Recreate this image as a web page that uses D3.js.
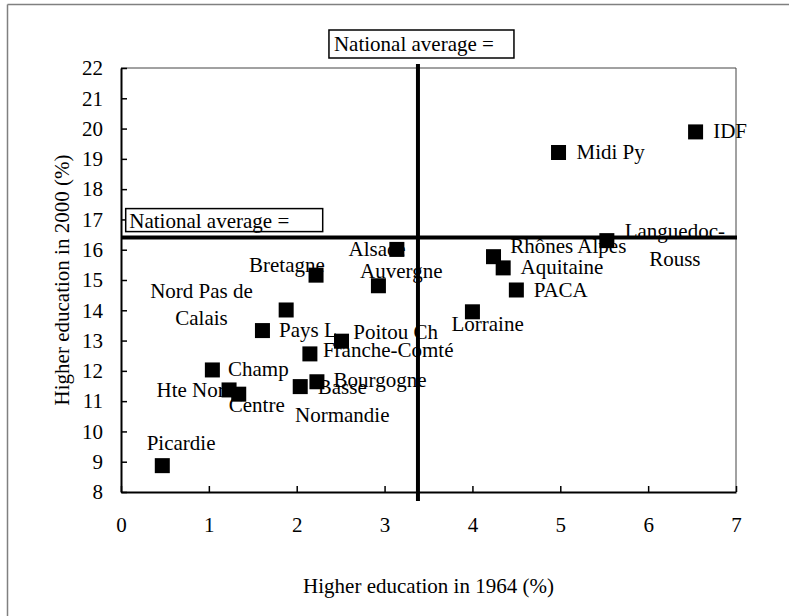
<!DOCTYPE html>
<html>
<head>
<meta charset="utf-8">
<script src="https://cdn.jsdelivr.net/npm/d3@7"></script>
<style>
  body { margin: 0; background: #fff; }
  svg text { font-family: "Liberation Serif", "Times New Roman", "DejaVu Serif", serif; }
</style>
</head>
<body>
<div id="main-vis"></div>
<script>
// regions of France, share of higher education (%)
var regions = ["IDF", "Midi Py", "Languedoc-\nRouss", "Rhônes Alpes", "Alsace", "Aquitaine",
  "Bretagne", "Auvergne", "PACA", "Nord Pas de\nCalais", "Lorraine", "Pays L", "Poitou Ch",
  "Franche-Comté", "Champ", "Bourgogne", "Basse\nNormandie", "Hte Nor", "Centre", "Picardie"];
var edu1964 = [6.54, 4.98, 5.53, 4.24, 3.14, 4.35, 2.22, 2.93, 4.50, 1.88, 4.00, 1.61, 2.51,
  2.15, 1.04, 2.23, 2.04, 1.23, 1.34, 0.47];
var edu2000 = [19.89, 19.21, 16.30, 15.77, 16.01, 15.40, 15.16, 14.81, 14.67, 14.01, 13.95, 13.33, 12.98,
  12.56, 12.03, 11.64, 11.48, 11.37, 11.23, 8.87];
var nationalAvg1964 = 3.38;
var nationalAvg2000 = 16.4;
var xTicks = [0, 1, 2, 3, 4, 5, 6, 7];
var yTicks = [8, 9, 10, 11, 12, 13, 14, 15, 16, 17, 18, 19, 20, 21, 22];
var avgLabel = "National average =";

// label placement (pixels from marker centre), like the hand moved labels of the original
var labelPos = {
  "IDF": [17.6, 6.3, "start"],
  "Midi Py": [18, 7, "start"],
  "Languedoc-\nRouss": [68, -2.4, "middle"],
  "Rhônes Alpes": [16.7, -4, "start"],
  "Alsace": [-48.4, 6.7, "start"],
  "Aquitaine": [17.4, 6, "start"],
  "Bretagne": [-67, -3.5, "start"],
  "Auvergne": [-18.3, -8.2, "start"],
  "PACA": [17.3, 6.7, "start"],
  "Nord Pas de\nCalais": [-84.7, -12.3, "middle"],
  "Lorraine": [-21, 19, "start"],
  "Pays L": [16.6, 6, "start"],
  "Poitou Ch": [11.8, -2, "start"],
  "Franche-Comté": [13, 3.3, "start"],
  "Champ": [15.6, 5.7, "start"],
  "Bourgogne": [16.6, 5.6, "start"],
  "Basse\nNormandie": [42, 7.6, "middle"],
  "Hte Nor": [-72.6, 6.7, "start"],
  "Centre": [-10, 17.4, "start"],
  "Picardie": [-15.6, -15.7, "start"]
};

var data = regions.map(function (r, i) {
  return { name: r, x: edu1964[i], y: edu2000[i] };
});

var W = 789, H = 616;
var margin = { top: 68, right: 53, bottom: 124, left: 121 };
var width = W - margin.left - margin.right;
var height = H - margin.top - margin.bottom;
var fs = 21;
var serif = "'Liberation Serif', 'Times New Roman', serif";

var svg = d3.select("#main-vis").append("svg")
  .attr("width", W)
  .attr("height", H);

// outer frame (left and top only)
svg.append("line").attr("x1", 7.5).attr("y1", 4.5).attr("x2", W).attr("y2", 4.5)
  .attr("stroke", "#808080").attr("stroke-width", 1.5);
svg.append("line").attr("x1", 7.5).attr("y1", 4.5).attr("x2", 7.5).attr("y2", H)
  .attr("stroke", "#808080").attr("stroke-width", 1.5);

var g = svg.append("g")
  .attr("font-family", serif)
  .attr("transform", "translate(" + margin.left + "," + margin.top + ")");

var x = d3.scaleLinear().domain([0, 7]).range([0, width]);
var y = d3.scaleLinear().domain([8, 22]).range([height, 0]);

// plot border top/right
g.append("path")
  .attr("d", "M0,0H" + width + "V" + height)
  .attr("fill", "none").attr("stroke", "#444").attr("stroke-width", 1);

var xAxis = g.append("g")
  .attr("transform", "translate(0," + height + ")")
  .call(d3.axisBottom(x).tickValues(xTicks).tickFormat(d3.format("d"))
    .tickSizeInner(-6).tickSizeOuter(0).tickPadding(25));
var yAxis = g.append("g")
  .call(d3.axisLeft(y).tickValues(yTicks).tickFormat(d3.format("d"))
    .tickSizeInner(-6).tickSizeOuter(0).tickPadding(18));

[xAxis, yAxis].forEach(function (a) {
  a.attr("font-size", fs).attr("font-family", serif);
  a.select(".domain").attr("stroke", "#000").attr("stroke-width", 2);
  a.selectAll(".tick line").attr("stroke", "#000").attr("stroke-width", 1.5);
  a.selectAll(".tick text").attr("fill", "#000");
});

// axis titles
g.append("text")
  .attr("x", width / 2).attr("y", height + 101)
  .attr("text-anchor", "middle").attr("font-size", fs)
  .text("Higher education in 1964 (%)");
g.append("text")
  .attr("transform", "translate(-52," + height / 2 + ") rotate(-90)")
  .attr("text-anchor", "middle").attr("font-size", fs)
  .text("Higher education in 2000 (%)");

// data labels
var lbl = g.selectAll(".lbl")
  .data(data)
  .enter().append("text")
  .attr("class", "lbl")
  .attr("font-size", fs)
  .attr("text-anchor", function (d) { return labelPos[d.name][2]; })
  .attr("transform", function (d) {
    var p = labelPos[d.name];
    return "translate(" + (x(d.x) + p[0]) + "," + (y(d.y) + p[1]) + ")";
  });
lbl.selectAll("tspan")
  .data(function (d) { return d.name.split("\n"); })
  .enter().append("tspan")
  .attr("x", 0)
  .attr("dy", function (d, i) { return i ? 27.5 : 0; })
  .text(function (d) { return d; });

// markers
var ms = 15;
g.selectAll(".dot")
  .data(data)
  .enter().append("rect")
  .attr("class", "dot")
  .attr("x", function (d) { return x(d.x) - ms / 2; })
  .attr("y", function (d) { return y(d.y) - ms / 2; })
  .attr("width", ms).attr("height", ms)
  .attr("fill", "#000");

// national average lines
g.append("line")
  .attr("x1", x(nationalAvg1964)).attr("x2", x(nationalAvg1964))
  .attr("y1", y(22) - 4).attr("y2", y(8) + 9)
  .attr("stroke", "#000").attr("stroke-width", 4);
g.append("line")
  .attr("x1", x(0)).attr("x2", x(7) + 1)
  .attr("y1", y(nationalAvg2000)).attr("y2", y(nationalAvg2000))
  .attr("stroke", "#000").attr("stroke-width", 4);

// "National average =" boxes
function avgBox(bx, by, bw, bh, tx, ty) {
  g.append("rect").attr("x", bx).attr("y", by).attr("width", bw).attr("height", bh)
    .attr("fill", "#fff").attr("stroke", "#000").attr("stroke-width", 1.5);
  g.append("text").attr("x", tx).attr("y", ty).attr("font-size", fs).text(avgLabel);
}
avgBox(x(nationalAvg1964) - 89, -38, 185, 28, x(nationalAvg1964) - 84, -17);
avgBox(4.7, y(nationalAvg2000) - 29, 197, 23, 8.3, y(nationalAvg2000) - 9.5);
</script>
</body>
</html>
